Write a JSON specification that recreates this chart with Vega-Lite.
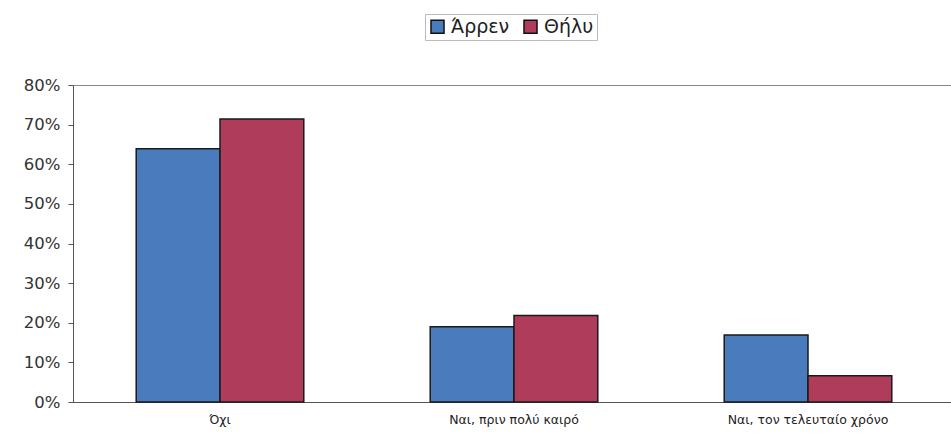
{
  "$schema": "https://vega.github.io/schema/vega-lite/v6.json",
  "autosize": "none",
  "width": 882,
  "height": 317,
  "padding": {"left": 73, "top": 85, "right": 1, "bottom": 40},
  "background": "white",
  "config": {
    "font": "DejaVu Sans",
    "view": {"stroke": "#888", "strokeWidth": 1}
  },
  "data": {
    "values": [
      {"answer": "Όχι", "sex": "Άρρεν", "value": 0.639},
      {"answer": "Όχι", "sex": "Θήλυ", "value": 0.714},
      {"answer": "Ναι, πριν πολύ καιρό", "sex": "Άρρεν", "value": 0.190},
      {"answer": "Ναι, πριν πολύ καιρό", "sex": "Θήλυ", "value": 0.218},
      {"answer": "Ναι, τον τελευταίο χρόνο", "sex": "Άρρεν", "value": 0.169},
      {"answer": "Ναι, τον τελευταίο χρόνο", "sex": "Θήλυ", "value": 0.066}
    ]
  },
  "mark": {"type": "bar", "stroke": "#1a1a1a", "strokeWidth": 1.5},
  "encoding": {
    "x": {
      "field": "answer",
      "type": "nominal",
      "sort": null,
      "scale": {"paddingInner": 0.43, "paddingOuter": 0.215},
      "axis": {
        "title": null,
        "labelAngle": 0,
        "labelFontSize": 12.5,
        "labelColor": "#222",
        "labelPadding": 11,
        "ticks": false,
        "domainColor": "#555"
      }
    },
    "xOffset": {"field": "sex", "type": "nominal", "sort": ["Άρρεν", "Θήλυ"]},
    "y": {
      "field": "value",
      "type": "quantitative",
      "scale": {"domain": [0, 0.8]},
      "axis": {
        "title": null,
        "format": ".0%",
        "values": [0, 0.1, 0.2, 0.3, 0.4, 0.5, 0.6, 0.7, 0.8],
        "labelOverlap": false,
        "grid": false,
        "labelFontSize": 16.5,
        "labelColor": "#333",
        "tickSize": 5,
        "tickColor": "#555",
        "domainColor": "#555",
        "labelPadding": 8
      }
    },
    "color": {
      "field": "sex",
      "type": "nominal",
      "sort": ["Άρρεν", "Θήλυ"],
      "scale": {"domain": ["Άρρεν", "Θήλυ"], "range": ["#4a7bbd", "#b03c5c"]},
      "legend": {
        "title": null,
        "orient": "none",
        "legendX": 352,
        "legendY": -71,
        "direction": "horizontal",
        "symbolType": "square",
        "symbolSize": 170,
        "symbolStrokeColor": "#111",
        "symbolStrokeWidth": 1.5,
        "labelFontSize": 19,
        "labelColor": "#222",
        "labelOffset": 4,
        "columnPadding": 10,
        "symbolOffset": 0,
        "strokeColor": "#bbb",
        "padding": 3
      }
    }
  }
}
